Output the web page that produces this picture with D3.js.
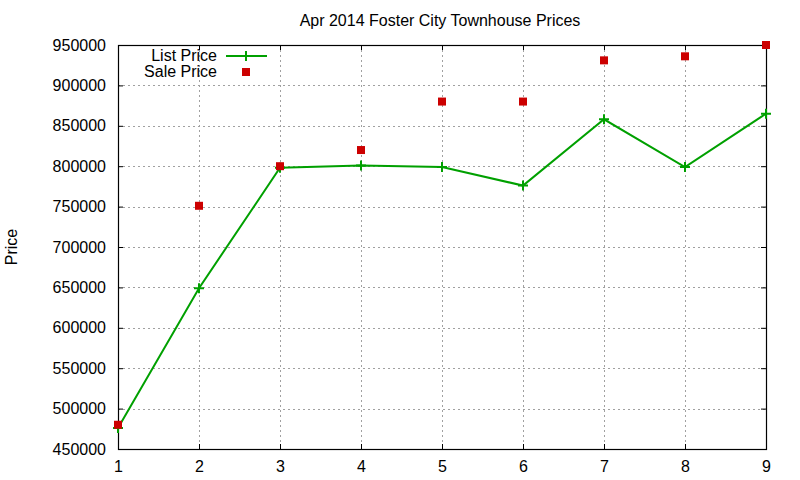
<!DOCTYPE html>
<html>
<head>
<meta charset="utf-8">
<script src="https://cdn.jsdelivr.net/npm/d3@7"></script>
<style>
  body { margin: 0; background: #fff; }
  svg { display: block; font-family: "Liberation Sans", Arial, sans-serif; }
</style>
</head>
<body>
<div id="chart"></div>
<script>
// --- Data ---
const months = [1, 2, 3, 4, 5, 6, 7, 8, 9];
const listPrice = [476000, 649000, 798000, 801000, 799000, 776000, 858000, 799000, 865000];
const salePrice = [480000, 751000, 800000, 820000, 880000, 880000, 931000, 936000, 950000];
const yTicks = [450000, 500000, 550000, 600000, 650000, 700000, 750000, 800000, 850000, 900000, 950000];

const W = 800, H = 480;
const m = { left: 118, right: 34, top: 45, bottom: 31 };
const iw = W - m.left - m.right, ih = H - m.top - m.bottom;

const svg = d3.select("#chart").append("svg").attr("width", W).attr("height", H);

const x = d3.scaleLinear().domain([1, 9]).range([m.left, m.left + iw]);
const y = d3.scaleLinear().domain([450000, 950000]).range([m.top + ih, m.top]);

// grid
const grid = svg.append("g").attr("stroke", "#a0a0a0").attr("stroke-width", 1).attr("stroke-dasharray", "2,3");
grid.selectAll(".gx").data(months.slice(1, -1)).join("line")
  .attr("x1", d => Math.round(x(d)) + 0.5).attr("x2", d => Math.round(x(d)) + 0.5)
  .attr("y1", m.top).attr("y2", m.top + ih);
grid.selectAll(".gy").data(yTicks.slice(1, -1)).join("line")
  .attr("y1", d => Math.round(y(d)) + 0.5).attr("y2", d => Math.round(y(d)) + 0.5)
  .attr("x1", m.left).attr("x2", m.left + iw);

// axes with inward ticks, mirrored (gnuplot style)
const tk = 5;
const fmt = d3.format("d");
svg.append("g").attr("transform", `translate(0,${m.top + ih})`)
  .call(d3.axisBottom(x).tickValues(months).tickSize(-tk).tickPadding(tk + 7).tickFormat(fmt))
  .call(g => g.select(".domain").remove());
svg.append("g").attr("transform", `translate(0,${m.top})`)
  .call(d3.axisTop(x).tickValues(months).tickSize(-tk).tickFormat(""))
  .call(g => g.select(".domain").remove());
svg.append("g").attr("transform", `translate(${m.left},0)`)
  .call(d3.axisLeft(y).tickValues(yTicks).tickSize(-tk).tickPadding(tk + 7).tickFormat(fmt))
  .call(g => g.select(".domain").remove());
svg.append("g").attr("transform", `translate(${m.left + iw},0)`)
  .call(d3.axisRight(y).tickValues(yTicks).tickSize(-tk).tickFormat(""))
  .call(g => g.select(".domain").remove());
svg.selectAll(".tick text").attr("font-size", 16).attr("fill", "#000")
  .attr("font-family", "'Liberation Sans', Arial, sans-serif");
svg.selectAll(".tick line").attr("stroke", "#000");

// frame
svg.append("rect").attr("x", m.left + 0.5).attr("y", m.top + 0.5)
  .attr("width", iw).attr("height", ih)
  .attr("fill", "none").attr("stroke", "#000").attr("stroke-width", 1.2);

// list price line
const green = "#00a000";
const line = d3.line().x((d, i) => x(months[i])).y(d => y(d));
svg.append("path").datum(listPrice).attr("d", line)
  .attr("fill", "none").attr("stroke", green).attr("stroke-width", 2);
const cross = (g, cx, cy) => {
  g.append("path").attr("d", `M${cx - 5},${cy}H${cx + 5}M${cx},${cy - 5}V${cy + 5}`)
    .attr("stroke", green).attr("stroke-width", 2);
};
const pts = svg.append("g");
listPrice.forEach((v, i) => cross(pts, x(months[i]), y(v)));

// sale price squares
const red = "#cc0000";
svg.append("g").selectAll("rect").data(salePrice).join("rect")
  .attr("x", (d, i) => x(months[i]) - 4).attr("y", d => y(d) - 4)
  .attr("width", 8).attr("height", 8).attr("fill", red);

// legend
const lg = svg.append("g").attr("font-size", 16).attr("text-anchor", "end");
lg.append("text").attr("x", 217).attr("y", 61).text("List Price");
lg.append("line").attr("x1", 226).attr("x2", 267).attr("y1", 56).attr("y2", 56)
  .attr("stroke", green).attr("stroke-width", 2);
cross(lg, 246, 56);
lg.append("text").attr("x", 217).attr("y", 77).text("Sale Price");
lg.append("rect").attr("x", 242).attr("y", 68).attr("width", 8).attr("height", 8).attr("fill", red);

// title and axis label
svg.append("text").attr("x", 440).attr("y", 26).attr("text-anchor", "middle")
  .attr("font-size", 16).text("Apr 2014 Foster City Townhouse Prices");
svg.append("text").attr("transform", "translate(17,247) rotate(-90)")
  .attr("text-anchor", "middle").attr("font-size", 16).text("Price");
</script>
</body>
</html>
